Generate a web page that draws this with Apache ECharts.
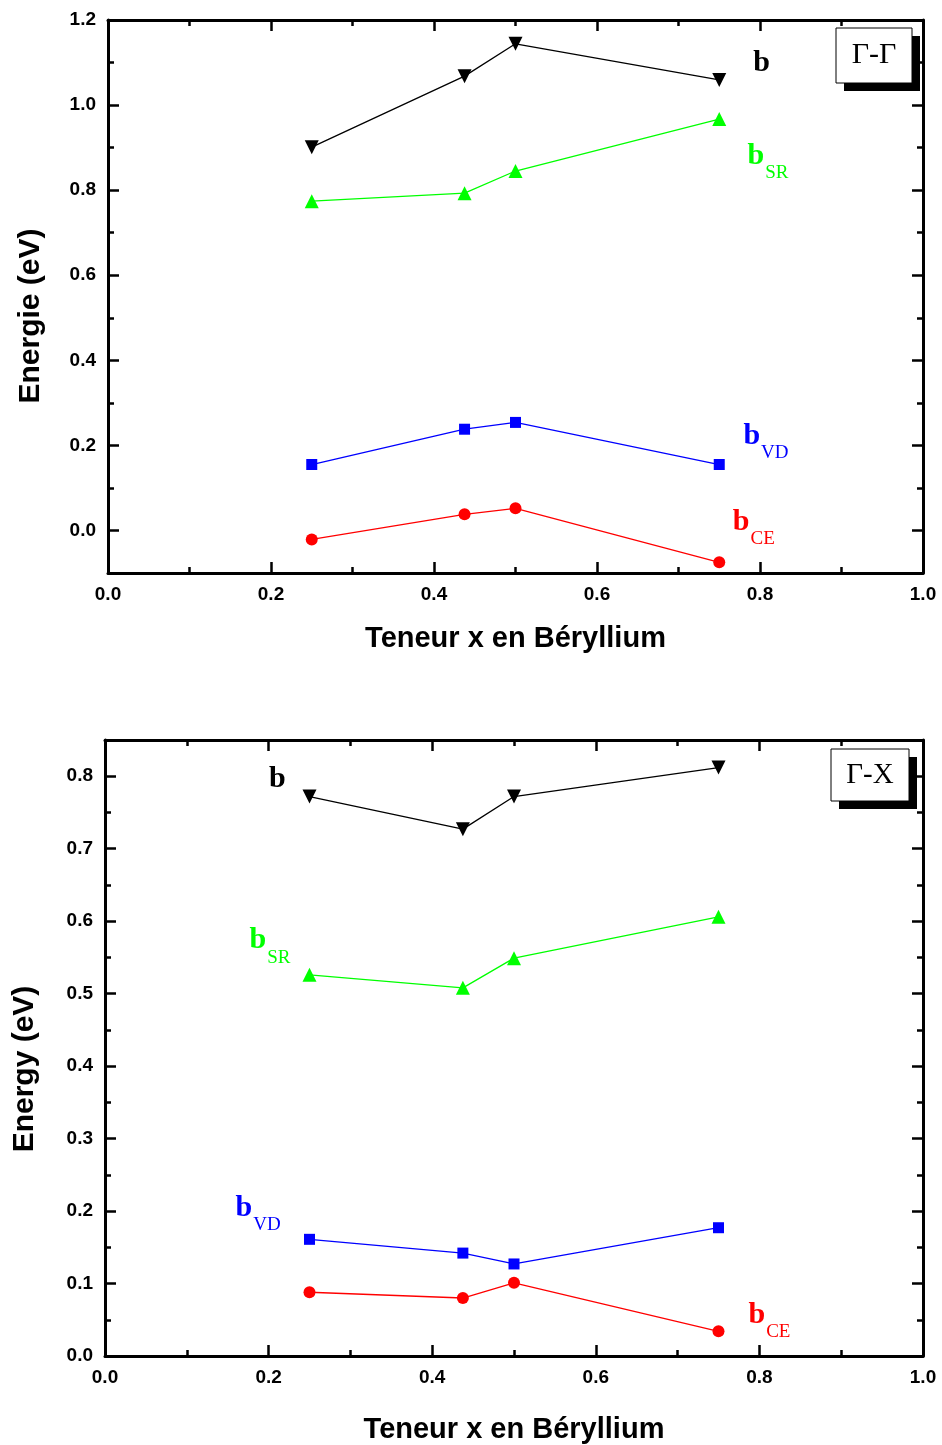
<!DOCTYPE html>
<html>
<head>
<meta charset="utf-8">
<script src="https://cdn.jsdelivr.net/npm/echarts@6/dist/echarts.min.js"></script>
<style>
  html, body { margin: 0; padding: 0; background: #fff; }
  #chart { width: 942px; height: 1445px; }
</style>
</head>
<body>
<div id="chart"></div>
<script>
// teneur x en Be (commune aux deux panneaux)
const xValues = [0.25, 0.4375, 0.5, 0.75]

// panneau Γ-Γ
const ggB = [0.901, 1.068, 1.144, 1.059]
const ggSR = [0.774, 0.793, 0.845, 0.967]
const ggVD = [0.155, 0.238, 0.254, 0.155]
const ggCE = [-0.021, 0.038, 0.052, -0.075]

// panneau Γ-X
const gxB = [0.772, 0.727, 0.772, 0.812]
const gxSR = [0.526, 0.508, 0.549, 0.606]
const gxVD = [0.161, 0.142, 0.127, 0.177]
const gxCE = [0.088, 0.080, 0.101, 0.034]

// graduations
const xMajor = [0, 0.2, 0.4, 0.6, 0.8, 1.0]
const xMinor = [0.1, 0.3, 0.5, 0.7, 0.9]
const ggYMajor = [0, 0.2, 0.4, 0.6, 0.8, 1.0, 1.2]
const ggYMinor = [-0.1, 0.1, 0.3, 0.5, 0.7, 0.9, 1.1]
const gxYMajor = [0, 0.1, 0.2, 0.3, 0.4, 0.5, 0.6, 0.7, 0.8]
const gxYMinor = [0.05, 0.15, 0.25, 0.35, 0.45, 0.55, 0.65, 0.75]

// étiquettes des courbes [x, y] (coin gauche / milieu du "b")
const ggLabelPos = { b: [0.791, 1.099], SR: [0.784, 0.880], VD: [0.779, 0.221], CE: [0.766, 0.019] }
const gxLabelPos = { b: [0.200, 0.796], SR: [0.176, 0.573], VD: [0.159, 0.204], CE: [0.786, 0.056] }

const SANS = 'Liberation Sans, Arial, sans-serif'
const SERIF = 'Liberation Serif, Times New Roman, serif'

const tickLabel = { fontFamily: SANS, fontWeight: 'bold', fontSize: 19, color: '#000' }

function axesFor(grid, dim, min, max, major, minor, name) {
  const sides = dim === 'x' ? ['bottom', 'top'] : ['left', 'right']
  const list = []
  sides.forEach((pos, k) => {
    ;[major, minor].forEach((vals, j) => {
      const main = k === 0 && j === 0
      list.push({
        type: 'value', gridIndex: grid, position: pos, min, max,
        name: main && name ? name : '',
        nameLocation: 'middle',
        nameGap: 51,
        nameTextStyle: { fontFamily: SANS, fontWeight: 'bold', fontSize: 29, color: '#000' },
        axisLine: { show: j === 0, onZero: false, lineStyle: { color: '#000', width: 3 } },
        axisTick: { show: true, inside: true, length: j === 0 ? 11 : 6, customValues: vals, lineStyle: { color: '#000', width: 2.5 } },
        axisLabel: main ? Object.assign({ show: true, customValues: vals, margin: 12, formatter: v => v.toFixed(1) }, tickLabel) : { show: false },
        splitLine: { show: false }
      })
    })
  })
  return list
}

function curve(name, ys, color, symbol, size, rotate, xi, yi, pos, sub) {
  return {
    name, type: 'line', xAxisIndex: xi, yAxisIndex: yi,
    data: xValues.map((x, i) => [x, ys[i]]),
    symbol, symbolSize: size, symbolRotate: rotate,
    itemStyle: { color }, lineStyle: { color, width: 1.3 },
    markPoint: {
      symbol: 'circle', symbolSize: 1, itemStyle: { color: 'transparent' },
      label: {
        show: true, position: 'right', distance: 0,
        formatter: () => sub ? '{m|b}{s|' + sub + '}' : '{m|b}',
        rich: {
          m: { fontFamily: SERIF, fontWeight: 'bold', fontSize: 30, color },
          s: { fontFamily: SERIF, fontSize: 19, color, padding: [34, 0, 0, 1] }
        }
      },
      data: [{ coord: pos }]
    }
  }
}

const chart = echarts.init(document.getElementById('chart'))

const xAxes = axesFor(0, 'x', 0, 1, xMajor, xMinor, 'Teneur x en Béryllium')
  .concat(axesFor(1, 'x', 0, 1, xMajor, xMinor, 'Teneur x en Béryllium'))
xAxes[4].nameGap = 59
const yAxes = axesFor(0, 'y', -0.1, 1.2, ggYMajor, ggYMinor, '')
  .concat(axesFor(1, 'y', 0, 0.85, gxYMajor, gxYMinor, ''))

function gammaBox(x, y, w, h, text, size) {
  return [
    { type: 'rect', shape: { x: x + 8, y: y + 8, width: w, height: h }, style: { fill: '#000' } },
    { type: 'rect', shape: { x, y, width: w, height: h }, style: { fill: '#fff', stroke: '#000', lineWidth: 1 } },
    { type: 'text', x: x + w / 2, y: y + h / 2, style: { text, fontFamily: SERIF, fontSize: size, fill: '#000', align: 'center', verticalAlign: 'middle' } }
  ]
}

function yTitle(x, y, text) {
  return { type: 'text', x, y, rotation: Math.PI / 2,
    style: { text, fontFamily: SANS, fontWeight: 'bold', fontSize: 30, fill: '#000', align: 'center', verticalAlign: 'middle' } }
}

chart.setOption({
  animation: false,
  backgroundColor: '#fff',
  grid: [
    { left: 108, top: 20, width: 815, height: 553 },
    { left: 105, top: 740, width: 818, height: 616 }
  ],
  xAxis: xAxes,
  yAxis: yAxes,
  series: [
    curve('b', ggB, '#000000', 'triangle', 14, 180, 0, 0, ggLabelPos.b, ''),
    curve('bSR', ggSR, '#00ff00', 'triangle', 14, 0, 0, 0, ggLabelPos.SR, 'SR'),
    curve('bVD', ggVD, '#0000ff', 'rect', 11, 0, 0, 0, ggLabelPos.VD, 'VD'),
    curve('bCE', ggCE, '#ff0000', 'circle', 12, 0, 0, 0, ggLabelPos.CE, 'CE'),
    curve('b', gxB, '#000000', 'triangle', 14, 180, 4, 4, gxLabelPos.b, ''),
    curve('bSR', gxSR, '#00ff00', 'triangle', 14, 0, 4, 4, gxLabelPos.SR, 'SR'),
    curve('bVD', gxVD, '#0000ff', 'rect', 11, 0, 4, 4, gxLabelPos.VD, 'VD'),
    curve('bCE', gxCE, '#ff0000', 'circle', 12, 0, 4, 4, gxLabelPos.CE, 'CE')
  ],
  graphic: [
    yTitle(31, 316, 'Energie (eV)'),
    yTitle(25, 1069, 'Energy (eV)')
  ].concat(gammaBox(836, 28, 76, 55, 'Γ-Γ', 30), gammaBox(831, 749, 78, 52, 'Γ-X', 29))
})
</script>
</body>
</html>
